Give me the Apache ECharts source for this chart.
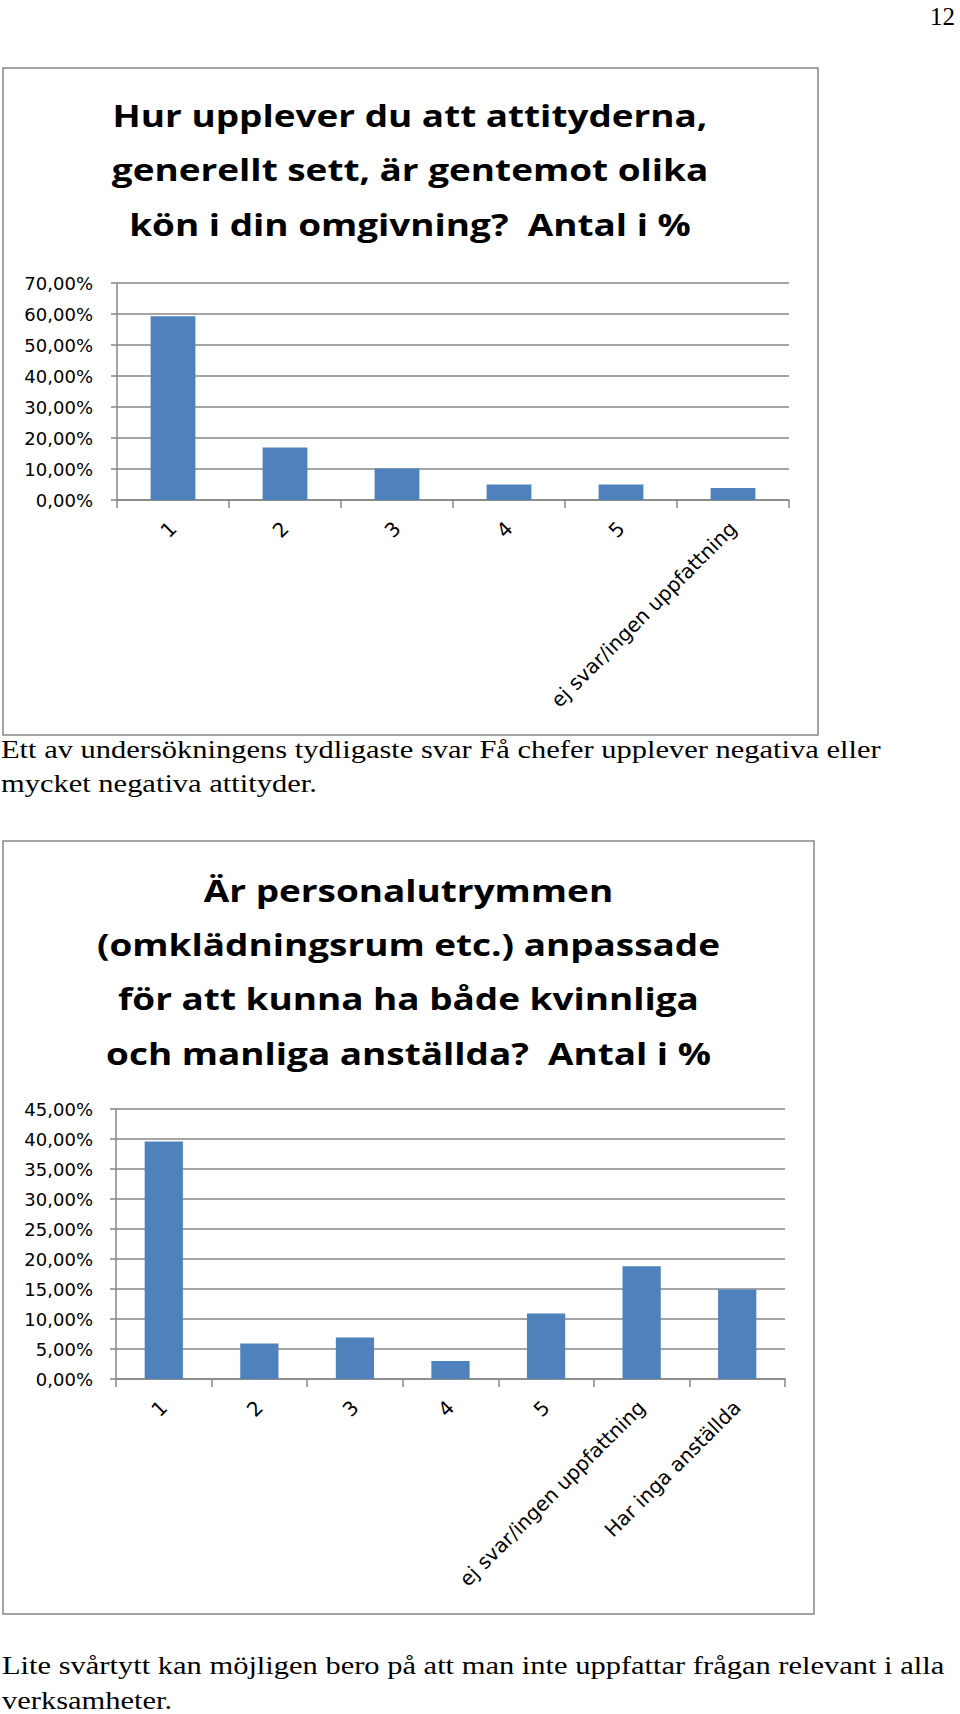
<!DOCTYPE html>
<html><head><meta charset="utf-8">
<script src="https://cdn.jsdelivr.net/npm/echarts@6.0.0/dist/echarts.min.js"></script>
<style>html,body{margin:0;padding:0;background:#fff}#c{width:960px;height:1714px}</style>
</head><body><div id="c"></div>
<script>
// ---------- data ----------
const pageNumber = '12';

const title1Lines = ['Hur upplever du att attityderna,', 'generellt sett, är gentemot olika', 'kön i din omgivning?  Antal i %'];
const categories1 = ['1', '2', '3', '4', '5', 'ej svar/ingen uppfattning'];
const values1 = [59.3, 16.9, 10.2, 5.0, 5.0, 3.9];
const yMax1 = 70, yStep1 = 10;
const caption1Lines = ['Ett av undersökningens tydligaste svar Få chefer upplever negativa eller', 'mycket negativa attityder.'];

const title2Lines = ['Är personalutrymmen', '(omklädningsrum etc.) anpassade', 'för att kunna ha både kvinnliga', 'och manliga anställda?  Antal i %'];
const categories2 = ['1', '2', '3', '4', '5', 'ej svar/ingen uppfattning', 'Har inga anställda'];
const values2 = [39.6, 5.9, 6.9, 3.0, 10.9, 18.8, 14.9];
const yMax2 = 45, yStep2 = 5;
const caption2Lines = ['Lite svårtytt kan möjligen bero på att man inte uppfattar frågan relevant i alla', 'verksamheter.'];

// ---------- styles ----------
const BAR = '#4F81BD';
const GRAY = '#878787';
const TITLE_SIZE = 30, TITLE_FAMILY = '"Open Sans"';
const CAP_SIZE = 26, CAP_FAMILY = '"Liberation Serif"';
const ctx = document.createElement('canvas').getContext('2d');
function tw(text, font) { ctx.font = font; return ctx.measureText(text).width; }
const titleFont = 'bold ' + TITLE_SIZE + 'px ' + TITLE_FAMILY;
const capFont = CAP_SIZE + 'px ' + CAP_FAMILY;
const titleScale = ((592 / tw(title1Lines[0], titleFont)) + (627 / tw(title2Lines[1], titleFont))) / 2;
const capScale = ((896 / tw(caption1Lines[0], capFont)) + (925 / tw(caption2Lines[0], capFont))) / 2;

// offset from baseline to the "central" line of each font, in em
function textLines(lines, x, baseline0, step, font, size, mid, scale, align) {
  return lines.map((t, i) => ({
    type: 'text', x: x, y: baseline0 + i * step - mid * size, scaleX: scale, z: 10,
    style: { text: t, font: font, fill: '#000', textAlign: align, textVerticalAlign: 'middle' }
  }));
}

const pct = v => v.toFixed(2).replace('.', ',') + '%';

function xAxis(idx, cats) {
  return {
    type: 'category', gridIndex: idx, data: cats,
    axisLine: { lineStyle: { color: GRAY, width: 1.5 } },
    axisTick: { show: true, length: 8, lineStyle: { color: GRAY, width: 1.5 } },
    axisLabel: { rotate: 45, interval: 0, margin: 25, color: '#000', fontFamily: 'DejaVu Sans', fontSize: 20 }
  };
}
function yAxis(idx, max, step, margin) {
  return {
    type: 'value', gridIndex: idx, min: 0, max: max, interval: step,
    axisLine: { show: true, lineStyle: { color: GRAY, width: 1.5 } },
    axisTick: { show: true, length: 6, lineStyle: { color: GRAY, width: 1.5 } },
    splitLine: { show: true, lineStyle: { color: GRAY, width: 1.5 } },
    axisLabel: { formatter: pct, margin: margin, color: '#000', fontFamily: 'DejaVu Sans', fontSize: 18 }
  };
}

const chart = echarts.init(document.getElementById('c'), null, { renderer: 'svg', width: 960, height: 1714 });
chart.setOption({
  animation: false,
  backgroundColor: '#fff',
  grid: [
    { left: 117, top: 283, width: 672, height: 217 },
    { left: 116, top: 1109, width: 669, height: 270 }
  ],
  xAxis: [xAxis(0, categories1), xAxis(1, categories2)],
  yAxis: [yAxis(0, yMax1, yStep1, 24), yAxis(1, yMax2, yStep2, 23)],
  series: [
    { type: 'bar', xAxisIndex: 0, yAxisIndex: 0, data: values1, barWidth: '40%', itemStyle: { color: BAR } },
    { type: 'bar', xAxisIndex: 1, yAxisIndex: 1, data: values2, barWidth: '40%', itemStyle: { color: BAR } }
  ],
  graphic: [
    { type: 'rect', shape: { x: 3, y: 68, width: 815, height: 667 }, style: { fill: 'none', stroke: GRAY, lineWidth: 1.5 } },
    { type: 'rect', shape: { x: 3, y: 841, width: 811, height: 773 }, style: { fill: 'none', stroke: GRAY, lineWidth: 1.5 } },
    { type: 'text', x: 955, y: 25 - 0.34 * 25, style: { text: pageNumber, font: '25px ' + CAP_FAMILY, fill: '#000', textAlign: 'right', textVerticalAlign: 'middle' } }
  ]
    .concat(textLines(title1Lines, 410, 127, 54.5, titleFont, TITLE_SIZE, 0.39, titleScale, 'center'))
    .concat(textLines(title2Lines, 408.5, 902, 54.3, titleFont, TITLE_SIZE, 0.39, titleScale, 'center'))
    .concat(textLines(caption1Lines, 1, 758, 34, capFont, CAP_SIZE, 0.34, capScale, 'left'))
    .concat(textLines(caption2Lines, 2, 1674, 35, capFont, CAP_SIZE, 0.34, capScale, 'left'))
});
</script>
</body></html>
